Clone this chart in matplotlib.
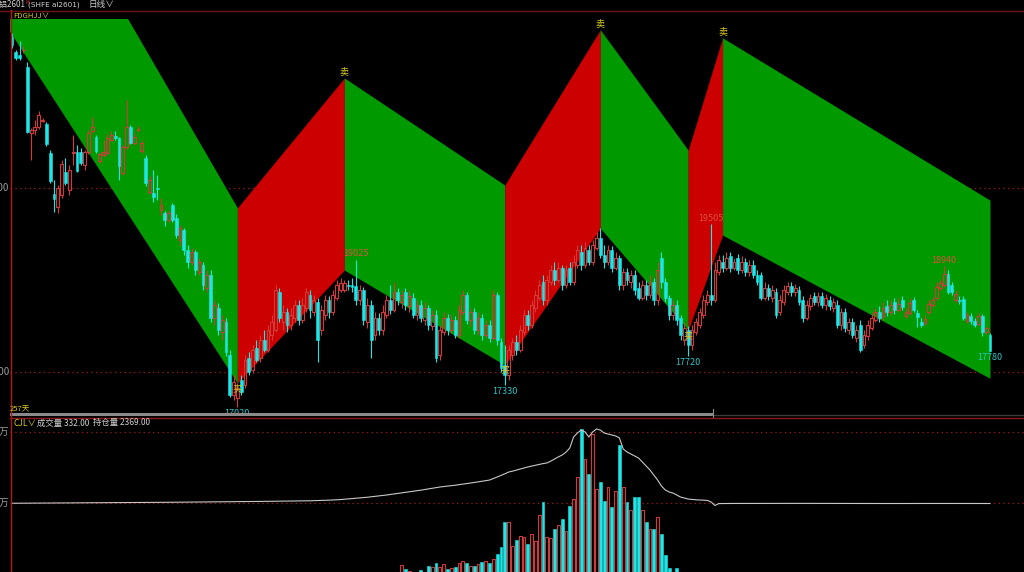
import matplotlib
matplotlib.use("Agg")
import matplotlib.pyplot as plt
from matplotlib.patches import Rectangle
import numpy as np

plt.rcParams['font.family'] = ['Noto Sans CJK SC', 'DejaVu Sans']

# ---------------- data ----------------
opens = [22055, 21850, 21810, 21870, 21645, 20750, 20790, 20830, 20910, 20870,
         20475, 19920, 19740, 19905, 20220, 19975, 20475, 20490, 20490, 20315,
         20490, 20775, 20695, 20365, 20450, 20475, 20655, 20705, 20680, 20205,
         20560, 20830, 20610, 20790, 20505, 20410, 19945, 19930, 20000, 19700,
         19660, 19565, 19770, 19590, 19295, 19430, 19155, 18995, 19130, 18860,
         18955, 18640, 18815, 18230, 18370, 18040, 18180, 17730, 17185, 17145,
         17390, 17320, 17690, 17525, 17825, 17690, 17935, 17795, 18000, 18070,
         18585, 18180, 18315, 18135, 18230, 18410, 18205, 18370, 18545, 18315,
         18450, 18070, 18275, 18475, 18315, 18505, 18615, 18615, 18680, 18680,
         18665, 18475, 18615, 18180, 18410, 18000, 18230, 18070, 18275, 18475,
         18340, 18585, 18450, 18585, 18395, 18505, 18275, 18410, 18205, 18370,
         18125, 18275, 17730, 18040, 18230, 18070, 18205, 18000, 18315, 18545,
         18205, 18315, 18070, 18230, 18000, 18135, 17960, 18545, 17905, 17595,
         17455, 17730, 17905, 17795, 18040, 18275, 18135, 18370, 18505, 18720,
         18475, 18720, 18885, 18750, 18910, 18680, 18910, 18720, 18955, 19130,
         18955, 19155, 18995, 19185, 19320, 19090, 18995, 19155, 18910, 19050,
         18680, 18860, 18720, 18815, 18640, 18505, 18680, 18545, 18720, 18475,
         19050, 18720, 18505, 18275, 18410, 18230, 17935, 18070, 17865, 18040,
         18135, 18275, 18450, 18545, 18475, 18860, 18995, 18910, 19075, 18910,
         19050, 18885, 18995, 18860, 18955, 18815, 18815, 18505, 18640, 18505,
         18585, 18315, 18450, 18585, 18665, 18585, 18615, 18475, 18230, 18395,
         18530, 18450, 18530, 18410, 18475, 18370, 18410, 18135, 18315, 18070,
         18180, 17960, 18135, 17865, 17985, 18095, 18205, 18315, 18260, 18395,
         18315, 18450, 18340, 18475, 18260, 18300, 18475, 18300, 18180, 18165,
         18315, 18410, 18505, 18640, 18680, 18830, 18680, 18475, 18475, 18490,
         18190, 18260, 18190, 18150, 18260, 18040, 18000]
closes = [21945, 21770, 21770, 21875, 20760, 20790, 20830, 20995, 20925, 20600,
          20095, 19850, 20000, 20325, 20070, 20245, 20490, 20230, 20340, 20490,
          20750, 20830, 20505, 20465, 20490, 20680, 20720, 20680, 20300, 20560,
          20830, 20610, 20695, 20805, 20610, 20070, 20110, 19880, 19985, 19770,
          19565, 19660, 19565, 19360, 19455, 19155, 18995, 19130, 18885, 18995,
          18680, 18815, 18230, 18410, 18070, 18205, 17770, 17185, 17360, 17280,
          17225, 17660, 17500, 17795, 17660, 17935, 17795, 18070, 18180, 18615,
          18230, 18315, 18135, 18275, 18410, 18205, 18410, 18585, 18340, 18475,
          17935, 18340, 18475, 18315, 18545, 18680, 18710, 18710, 18665, 18655,
          18475, 18615, 18205, 18410, 17935, 18230, 18070, 18315, 18475, 18340,
          18585, 18475, 18545, 18410, 18530, 18275, 18410, 18230, 18370, 18135,
          18275, 17690, 18070, 18230, 18070, 18205, 18000, 18340, 18545, 18205,
          18315, 18070, 18230, 18000, 18135, 17960, 18545, 17935, 17550, 17455,
          17795, 17905, 17795, 18070, 18275, 18135, 18410, 18545, 18680, 18475,
          18750, 18885, 18750, 18910, 18680, 18885, 18720, 18995, 19155, 18955,
          19185, 18995, 19225, 19320, 19090, 18995, 19155, 18910, 19050, 18680,
          18860, 18750, 18815, 18615, 18505, 18680, 18545, 18720, 18475, 18885,
          18720, 18505, 18275, 18410, 18205, 18000, 18095, 17865, 18070, 18180,
          18315, 18475, 18545, 18475, 18885, 19020, 18910, 19050, 18910, 18995,
          18885, 18995, 18860, 18955, 18815, 18720, 18505, 18640, 18530, 18615,
          18275, 18475, 18615, 18665, 18585, 18640, 18450, 18230, 18410, 18505,
          18450, 18530, 18410, 18505, 18395, 18450, 18135, 18315, 18095, 18180,
          18000, 18070, 17795, 18000, 18135, 18230, 18315, 18230, 18370, 18315,
          18410, 18340, 18425, 18380, 18315, 18435, 18340, 18245, 18135, 18220,
          18425, 18475, 18655, 18710, 18830, 18585, 18585, 18560, 18465, 18230,
          18275, 18190, 18135, 18260, 18040, 18095, 17790]
highs = [22110, 21875, 22000, 21930, 21715, 20815, 20925, 21045, 20950, 20900,
         20515, 20110, 20040, 20380, 20410, 20315, 20720, 20585, 20545, 20515,
         20790, 20965, 20720, 20490, 20655, 20735, 20775, 20775, 20695, 20585,
         21195, 20855, 20760, 20845, 20655, 20450, 20165, 20245, 20175, 19865,
         19690, 19700, 19795, 19645, 19495, 19455, 19225, 19185, 19155, 19050,
         18995, 18885, 18885, 18475, 18435, 18275, 18230, 17795, 17455, 17350,
         17455, 17730, 17770, 17865, 17935, 18000, 18070, 18135, 18275, 18680,
         18640, 18410, 18370, 18370, 18475, 18475, 18505, 18640, 18615, 18545,
         18505, 18410, 18545, 18530, 18615, 18750, 18775, 18750, 18750, 18775,
         19025, 18680, 18655, 18505, 18475, 18315, 18300, 18410, 18545, 18680,
         18720, 18640, 18615, 18640, 18615, 18570, 18475, 18475, 18450, 18410,
         18340, 18340, 18135, 18315, 18285, 18285, 18260, 18410, 18615, 18585,
         18370, 18370, 18315, 18285, 18205, 18205, 18615, 18585, 17960, 17865,
         17865, 17960, 18000, 18135, 18340, 18340, 18475, 18615, 18750, 18815,
         18815, 18955, 18995, 18995, 18955, 18955, 18995, 19090, 19225, 19225,
         19265, 19225, 19295, 19400, 19455, 19225, 19225, 19210, 19130, 19090,
         18910, 18910, 18885, 18885, 18720, 18750, 18750, 18815, 18775, 18995,
         19130, 18775, 18545, 18475, 18475, 18275, 18180, 18125, 18135, 18230,
         18370, 18545, 18615, 19505, 18995, 19090, 19090, 19130, 19130, 19050,
         19105, 19075, 19050, 19020, 19020, 18885, 18860, 18720, 18695, 18680,
         18640, 18545, 18680, 18720, 18720, 18695, 18665, 18530, 18475, 18560,
         18585, 18585, 18585, 18560, 18530, 18505, 18475, 18370, 18370, 18230,
         18230, 18135, 18205, 18070, 18205, 18315, 18370, 18395, 18450, 18475,
         18475, 18505, 18505, 18530, 18370, 18505, 18520, 18340, 18230, 18275,
         18475, 18520, 18720, 18750, 18940, 18885, 18720, 18615, 18530, 18530,
         18315, 18300, 18230, 18300, 18285, 18125, 18030]
lows = [21905, 21740, 21740, 21835, 20750, 20380, 20720, 20805, 20900, 20570,
        20070, 19675, 19660, 19865, 20040, 19905, 20315, 20220, 20315, 20245,
        20465, 20750, 20475, 20340, 20420, 20450, 20640, 20655, 20110, 20175,
        20530, 20600, 20585, 20760, 20475, 20025, 19920, 19810, 19835, 19635,
        19485, 19540, 19540, 19320, 19225, 19090, 18910, 18955, 18815, 18815,
        18615, 18585, 18180, 18135, 18000, 17935, 17715, 17160, 17115, 17020,
        17185, 17280, 17455, 17485, 17635, 17635, 17770, 17770, 17935, 18040,
        18180, 18070, 18040, 18070, 18180, 18135, 18165, 18315, 18230, 18260,
        17635, 18000, 18205, 18230, 18275, 18475, 18585, 18585, 18615, 18585,
        18410, 18410, 18135, 18095, 17690, 17935, 18000, 18000, 18230, 18285,
        18315, 18410, 18370, 18340, 18315, 18230, 18205, 18180, 18135, 18070,
        18070, 17635, 17660, 18000, 18000, 18030, 17960, 17960, 18275, 18150,
        18125, 18015, 18000, 17935, 17960, 17905, 17935, 17865, 17500, 17330,
        17390, 17660, 17730, 17770, 18000, 18070, 18095, 18315, 18475, 18410,
        18410, 18680, 18680, 18720, 18615, 18640, 18680, 18680, 18910, 18885,
        18910, 18955, 18955, 19155, 19050, 18910, 18955, 18860, 18885, 18615,
        18615, 18680, 18640, 18545, 18475, 18475, 18475, 18505, 18410, 18410,
        18640, 18450, 18205, 18205, 18135, 17935, 17865, 17720, 17795, 18000,
        18095, 18230, 18410, 18410, 18450, 18815, 18860, 18885, 18860, 18885,
        18830, 18845, 18805, 18805, 18775, 18680, 18475, 18475, 18475, 18450,
        18230, 18275, 18410, 18545, 18530, 18530, 18410, 18180, 18205, 18340,
        18410, 18395, 18370, 18340, 18340, 18315, 18095, 18070, 18040, 18015,
        17960, 17905, 17770, 17825, 17935, 18070, 18180, 18180, 18205, 18260,
        18275, 18285, 18315, 18340, 18230, 18275, 18315, 18110, 18110, 18135,
        18275, 18380, 18475, 18615, 18655, 18560, 18545, 18435, 18425, 18205,
        18165, 18150, 18110, 18125, 17985, 18015, 17780]
volumes = [120, 90, 150, 80, 260, 140, 100, 90, 70, 130, 210, 180, 160, 150, 120,
           140, 110, 130, 90, 100, 150, 120, 110, 90, 100, 140, 90, 80, 160, 150,
           180, 130, 110, 90, 120, 220, 200, 170, 150, 190, 210, 160, 170, 230, 250,
           260, 280, 230, 300, 260, 320, 300, 420, 380, 400, 360, 480, 620, 580, 700,
           650, 600, 560, 520, 560, 600, 520, 580, 640, 760,
           700, 650, 620, 680, 720, 650, 700, 760, 700, 720,
           900, 820, 780, 760, 820, 900, 950, 880, 900, 860,
           1300, 1100, 1200, 1350, 1600, 1400, 1300, 1450, 1600, 1800, 2000, 2200,
           12670, 7040, 4220, 2500, 2000, 5630, 2800, 11260, 9860, 15490,
           9860, 14080, 7040, 8450, 9860, 15490, 18300, 15490, 11260, 11260,
           14080, 16900, 18300, 15490, 21120, 28160, 38020, 73220, 73220, 39420,
           47870, 53500, 52100, 42240, 56320, 46460, 83070, 101380, 52100, 50690,
           63360, 68990, 77440, 60540, 95740, 105600, 136580, 204160, 161920, 140800,
           197120, 119680, 129540, 102780, 122500, 94340, 116860, 181630, 122500, 101380,
           90110, 108420, 108420, 90110, 73220, 63360, 63360, 80260, 56320, 26750,
           8450, 2800, 8450, 2800,
           2400, 2100, 1900, 1800, 1700, 1600, 1500, 2200, 1900, 1500,
           1300, 1200, 1100, 1000, 950, 900, 880, 850, 800, 900,
           780, 760, 740, 720, 700, 680, 660, 640, 650, 620,
           600, 590, 580, 570, 560, 600, 550, 540, 530, 520,
           510, 500, 490, 480, 470, 460, 520, 450, 440, 430,
           420, 410, 400, 420, 390, 380, 370, 360, 380, 350,
           340, 360, 350, 340, 330, 320, 360, 340, 330, 320,
           310, 300, 320, 340, 350, 360, 330, 320, 340, 330, 332]
open_interest = [2600, 2620, 2650, 2650, 2680, 2700, 2700, 2720, 2740, 2750, 2760, 2780,
                 2800, 2810, 2830, 2850, 2860, 2880, 2900, 2920, 2950, 2980, 3000, 3020,
                 3050, 3080, 3100, 3130, 3150, 3180, 3200, 3230, 3260, 3300, 3320, 3350, 3380,
                 3400, 3430, 3460, 3500, 3520, 3550, 3580, 3600, 3640, 3680, 3700, 3730, 3760,
                 3800, 3830, 3860, 3900, 3930, 3960, 4000, 4040, 4080, 4120, 4150, 4190, 4230,
                 4270, 4300, 4340, 4380, 4420, 4460, 4500, 4540, 4580, 4620, 4660, 4700, 4740,
                 4800, 4880, 4950, 5050, 5150, 5250, 5400, 5550, 5700, 5900, 6100,
                 6400, 6700, 7000, 7300, 7600, 7900, 8300, 8700, 9100, 9500, 9900, 10400, 10900,
                 11400, 11800, 12300, 12800, 13300, 13800, 14400, 15000, 15600, 16200, 16800, 17400, 18000,
                 18400, 18800, 19200, 19700, 20200, 20700, 21200, 21700, 22300, 22900, 23500, 24000, 24600,
                 26000, 27500, 29000, 30500, 32200,
                 33000, 34000, 35000, 36000, 37000, 37800, 38600, 39400, 40200, 40800,
                 42500, 44500, 46500, 48300, 51000,
                 55000, 65400, 69200, 72000, 70200, 65400, 70200, 73000, 72000, 69200,
                 68300, 67300, 66400, 64500, 54000, 51200, 49300, 47400, 45500, 41700,
                 37900, 34100, 29400, 24600, 18900, 15200, 13300, 12300, 10400, 8500,
                 7600, 6600, 6200, 5900, 5700, 5500, 5300, 3800, 470,
                 2300, 2350, 2380, 2400, 2420, 2430, 2450, 2460, 2470, 2480,
                 2490, 2500, 2510, 2500, 2520, 2530, 2540, 2530, 2520, 2510,
                 2500, 2490, 2480, 2470, 2460, 2450, 2440, 2430, 2420, 2410,
                 2400, 2410, 2420, 2430, 2440, 2450, 2440, 2430, 2420, 2410,
                 2400, 2390, 2380, 2370, 2360, 2370, 2380, 2390, 2400, 2410,
                 2420, 2430, 2420, 2410, 2400, 2390, 2380, 2390, 2400, 2410,
                 2400, 2390, 2380, 2370, 2380, 2390, 2380, 2370, 2375, 2380,
                 2372, 2369]

# zigzag band pivots (bar index, lower edge price, upper edge price)
pivot_idx = [-1, 59, 87, 129, 154, 177, 186, 256]
band_low = [22160, 17350, 18885, 17595, 19455, 18070, 19360, 17415]
band_high = [25100, 19730, 21495, 20040, 22150, 20515, 22040, 19835]
buy_idx = [59, 129, 177]
sell_idx = [87, 154, 186]

low_label_idx = [59, 129, 177, 256]
low_label_val = [17020, 17330, 17720, 17780]
high_label_idx = [90, 183, 244]
high_label_val = [19025, 19505, 18940]

price_grid = [20000, 17500]
vol_grid = [100000, 200000]
vol_grid_labels = ['10万', '20万']
last_volume = '332.00'
last_oi = '2369.00'
days_label = '257天'

# ---------------- styles ----------------
RED = '#d23a3a'
CYAN = '#1fe6e6'
GREEN_BAND = '#009a00'
RED_BAND = '#cc0000'
GRID = '#8e1616'
YELLOW = '#d8c81c'
TXT = '#d0d0d0'

W, H = 1024, 572
fig = plt.figure(figsize=(W / 100, H / 100), dpi=100, facecolor='black')


def rect(x0, y0, x1, y1):
    return [x0 / W, 1 - y1 / H, (x1 - x0) / W, (y1 - y0) / H]


o = np.array(opens, float)
c = np.array(closes, float)
h = np.array(highs, float)
l = np.array(lows, float)
v = np.array(volumes, float)
oi = np.array(open_interest, float)
n = len(c)
x = np.arange(n)
up = c >= o
XL = (-0.52, 264.9)

# ---------------- price panel ----------------
ax = fig.add_axes(rect(10, 19, 1024, 413))
ax.set_facecolor('none')
ax.set_xlim(*XL)
ax.set_ylim(16943, 22296)
for s in ax.spines.values():
    s.set_visible(False)
ax.set_xticks([])
ax.set_yticks([])

for g in price_grid:
    ax.axhline(g, color=GRID, lw=0.9, ls=(0, (1.2, 2.6)), zorder=0.5)
    ax.annotate(str(g), xy=(9, g), xycoords=('figure pixels', 'data'),
                ha='right', va='center', color='#9a9a9a', fontsize=7,
                annotation_clip=False)

for k in range(len(pivot_idx) - 1):
    xs = [pivot_idx[k], pivot_idx[k + 1]]
    col = GREEN_BAND if band_low[k + 1] < band_low[k] else RED_BAND
    ax.fill_between(xs, [band_low[k], band_low[k + 1]],
                    [band_high[k], band_high[k + 1]],
                    color=col, linewidth=0, zorder=1)

bw = 0.74
# down candles (filled cyan)
d = ~up
ax.vlines(x[d], l[d], h[d], color=CYAN, lw=0.8, zorder=3)
ax.bar(x[d], (o - c)[d], bottom=c[d], width=bw, color=CYAN,
       edgecolor=CYAN, linewidth=0.4, zorder=4)
# up candles (hollow red)
ax.vlines(x[up], l[up], o[up], color=RED, lw=0.8, zorder=3)
ax.vlines(x[up], c[up], h[up], color=RED, lw=0.8, zorder=3)
ax.bar(x[up], (c - o)[up], bottom=o[up], width=bw, facecolor='none',
       edgecolor=RED, linewidth=0.8, zorder=4)

for i, val in zip(low_label_idx, low_label_val):
    ax.annotate(str(val), xy=(i, val), xytext=(0, -1.5), textcoords='offset points',
                ha='center', va='top', color='#2ec4c4', fontsize=6.5, zorder=6)
for i, val in zip(high_label_idx, high_label_val):
    ax.annotate(str(val), xy=(i, val), xytext=(0, 1), textcoords='offset points',
                ha='center', va='bottom', color='#d9503c', fontsize=6.5, zorder=6)

for i in sell_idx:
    k = pivot_idx.index(i)
    ax.annotate('卖', xy=(i, band_high[k]), xytext=(0, 0.5), textcoords='offset points',
                ha='center', va='bottom', color=YELLOW, fontsize=6.5, zorder=6,
                annotation_clip=False)
for i in buy_idx:
    k = pivot_idx.index(i)
    ax.annotate('买', xy=(i, band_low[k]), xytext=(0, -0.5), textcoords='offset points',
                ha='center', va='top', color=YELLOW, fontsize=6.5, zorder=6)

# ---------------- volume / open interest panel ----------------
vax = fig.add_axes(rect(10, 418, 1024, 574))
vax.set_facecolor('none')
vax.set_xlim(*XL)
vax.set_ylim(0, 219648)
for s in vax.spines.values():
    s.set_visible(False)
vax.set_xticks([])
vax.set_yticks([])
for g, lab in zip(vol_grid, vol_grid_labels):
    vax.axhline(g, color=GRID, lw=0.9, ls=(0, (1.2, 2.6)), zorder=0.5)
    vax.annotate(lab, xy=(9, g), xycoords=('figure pixels', 'data'),
                 ha='right', va='center', color='#9a9a9a', fontsize=7,
                 annotation_clip=False)
vax.bar(x[d], v[d], width=bw, color=CYAN, edgecolor=CYAN, linewidth=0.4, zorder=3)
vax.bar(x[up], v[up], width=bw, facecolor='none', edgecolor=RED,
        linewidth=0.8, zorder=3)

oax = vax.twinx()
oax.set_facecolor('none')
oax.set_xlim(*XL)
oax.set_ylim(-64464, 83424)
for s in oax.spines.values():
    s.set_visible(False)
oax.set_yticks([])
oax.plot(x, oi, color='#c8c8c8', lw=0.8, zorder=4)

# ---------------- frame decorations / headers ----------------
deco = fig.add_axes([0, 0, 1, 1])
deco.set_xlim(0, W)
deco.set_ylim(H, 0)
deco.axis('off')
deco.patch.set_alpha(0)
deco.plot([0, W], [10.5, 10.5], color='#701414', lw=1)
deco.plot([10.5, 10.5], [10, H], color='#b01a1a', lw=1)
deco.add_patch(Rectangle((10, 413), 703, 3.2, color='#8a8a8a', lw=0))
deco.plot([713, W], [414.8, 414.8], color='#3c3c3c', lw=1)
deco.plot([713, 713], [409, 417], color='#8a8a8a', lw=0.8)
deco.plot([10, W], [418, 418], color='#8a1616', lw=1)

deco.text(-8.2, 5, '沪铝2601', color=TXT, fontsize=5.8, ha='left', va='center')
deco.text(25.2, 2.5, 'M', color='#e03030', fontsize=3.2, ha='left', va='center')
deco.text(28.5, 5, '(SHFE al2601)', color=TXT, fontsize=5.2, ha='left', va='center',
          family=['DejaVu Sans'])
deco.text(88, 5, '日线∨', color=TXT, fontsize=6.2, ha='left', va='center')
deco.text(13, 15.5, 'FDGHJJ∨', color=YELLOW, fontsize=5.5, ha='left', va='center')
deco.text(10, 410, days_label, color=YELLOW, fontsize=5.5, ha='left', va='center')
deco.text(13, 423, 'CJL∨', color=YELLOW, fontsize=6, ha='left', va='center')
deco.text(37, 423, '成交量 ' + last_volume, color=TXT, fontsize=6, ha='left', va='center')
deco.text(93, 423, '持仓量 ' + last_oi, color=TXT, fontsize=6, ha='left', va='center')

fig.savefig('out.png', dpi=100, facecolor='black')
